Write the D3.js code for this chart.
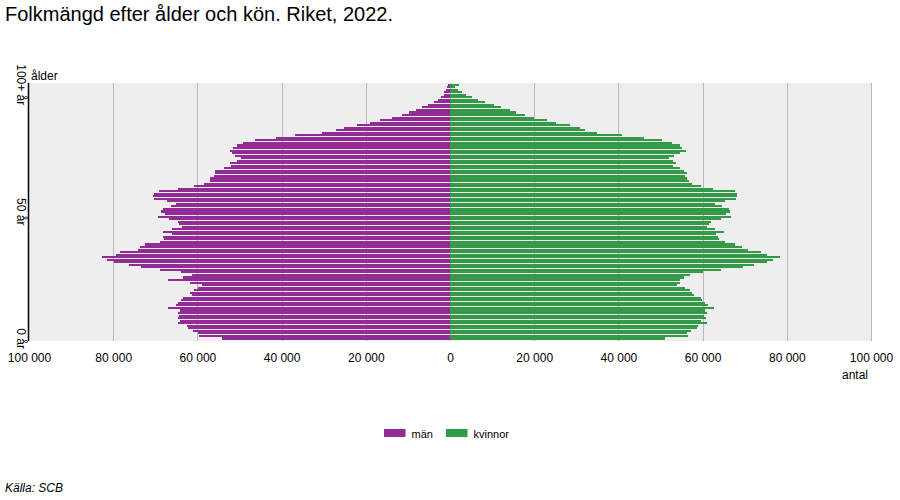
<!DOCTYPE html>
<html>
<head>
<meta charset="utf-8">
<script src="https://cdn.jsdelivr.net/npm/d3@7"></script>
<style>
  html, body { margin: 0; padding: 0; background: #fff; }
  svg { display: block; font-family: "Liberation Sans", Arial, sans-serif; }
</style>
</head>
<body>
<svg id="chart" width="900" height="500"></svg>
<script>
// Ages from 100+ (top) down to 0 (bottom)
const ages = d3.range(100, -1, -1).map(a => a === 100 ? "100+" : String(a));

// män (men), per age, same order as ages
const men = [
  396, 792, 950, 1346, 1504, 2137, 2929, 3879, 5146, 6729,
  8154, 9817, 11400, 13854, 16625, 19000, 22088, 25175, 27075, 30400,
  36813, 41325, 46313, 49163, 50588, 51538, 52250, 51775, 51063, 49638,
  50588, 52250, 52013, 53675, 55813, 55813, 56050, 57000, 57000, 58425,
  60800, 64600, 69113, 70300, 70538, 70300, 67213, 65075, 66263, 68163,
  68638, 67688, 69350, 66738, 64600, 64363, 63650, 66025, 68163, 66025,
  68163, 67925, 68875, 72438, 73625, 74100,
  78375, 79325, 82650, 81463, 79800, 76238, 73388, 68875, 63888, 61275,
  63413, 66975, 61750, 58900, 59850, 60800, 61750, 61275, 63413, 63888,
  64600, 65075, 66975, 64125, 64600, 64363, 64600, 64125, 64600, 62463,
  62225, 61038, 59850, 59613, 54150
];

// kvinnor (women), per age, same order as ages
const women = [
  2140, 1190, 1900, 2850, 3800, 5230, 6650, 8310, 10450, 12120,
  14250, 15680, 17810, 19950, 23040, 25170, 28500, 30870, 32060, 34910,
  40850, 46070, 50350, 52730, 54625, 55100, 56050, 54625, 53200, 52010,
  52963, 53675, 52963, 54625, 55575, 56288, 55813, 56288, 56763, 57475,
  59613, 62463, 67688, 68163, 68163, 67925, 65313, 62938, 64600, 66263,
  66500, 65550, 66738, 64363, 61988, 61513, 61038, 62938, 65075, 63175,
  63650, 63888, 65313, 67688, 69350, 70775,
  73863, 75288, 78375, 76713, 75288, 72200, 69588, 64363, 60088, 57000,
  55575, 54625, 54625, 53913, 55813, 57000, 57475, 57950, 59613, 59850,
  60563, 61275, 62700, 60563, 61038, 60325, 60800, 59613, 61038, 58900,
  58663, 57238, 56288, 56525, 51063
];

const xTicks = [-100000, -80000, -60000, -40000, -20000, 0, 20000, 40000, 60000, 80000, 100000];
const yTickLabels = ["100+", "50", "0"];
const seriesNames = ["män", "kvinnor"];
const colors = ["#922B96", "#339A47"];

const svg = d3.select("#chart");
const plot = { left: 29, right: 871, top: 83, bottom: 341 };

const x = d3.scaleLinear().domain([-100000, 100000]).range([plot.left, plot.right]);
const y = d3.scaleBand().domain(ages).range([83.5, 339.5]).paddingInner(0.16);

const loc = d3.formatLocale({ decimal: ",", thousands: "\u00a0", grouping: [3], currency: ["", " kr"] });
const fmt = loc.format(",d");

// Title
svg.append("text")
  .attr("x", 5).attr("y", 20.5)
  .attr("font-size", 20).attr("fill", "#000")
  .text("Folkmängd efter ålder och kön. Riket, 2022.");

// Plot background
svg.append("rect")
  .attr("x", plot.left).attr("y", plot.top)
  .attr("width", plot.right - plot.left).attr("height", plot.bottom - plot.top)
  .attr("fill", "#eeeeee");

// Grid lines
svg.append("g").selectAll("line")
  .data(xTicks.filter(d => d !== -100000))
  .join("line")
  .attr("x1", d => Math.round(x(d)) + 0.5).attr("x2", d => Math.round(x(d)) + 0.5)
  .attr("y1", plot.top).attr("y2", plot.bottom)
  .attr("stroke", "#b8b8b8").attr("stroke-width", 1);

// Bars
const rows = ages.map((a, i) => ({ age: a, m: men[i], w: women[i] }));
const gBars = svg.append("g").attr("shape-rendering", "crispEdges");
gBars.selectAll("rect.m").data(rows).join("rect")
  .attr("class", "m")
  .attr("x", d => x(-d.m)).attr("width", d => x(0) - x(-d.m))
  .attr("y", d => y(d.age)).attr("height", y.bandwidth())
  .attr("fill", colors[0]);
gBars.selectAll("rect.w").data(rows).join("rect")
  .attr("class", "w")
  .attr("x", x(0)).attr("width", d => x(d.w) - x(0))
  .attr("y", d => y(d.age)).attr("height", y.bandwidth())
  .attr("fill", colors[1]);

// Left axis line
svg.append("line")
  .attr("x1", plot.left - 0.5).attr("x2", plot.left - 0.5)
  .attr("y1", plot.top).attr("y2", plot.bottom)
  .attr("stroke", "#000").attr("stroke-width", 1.5);

// X axis
const xAxis = d3.axisBottom(x).tickValues(xTicks).tickSize(0).tickPadding(0)
  .tickFormat(d => fmt(Math.abs(d)));
const gx = svg.append("g").attr("transform", `translate(0,${plot.bottom})`).call(xAxis);
gx.select(".domain").remove();
gx.selectAll("text")
  .attr("dy", null).attr("y", 20.5)
  .attr("font-size", 12).attr("fill", "#000")
  .attr("font-family", "Liberation Sans, Arial, sans-serif");

// Y tick labels (rotated)
svg.append("g").selectAll("text")
  .data(yTickLabels)
  .join("text")
  .attr("transform", d => `translate(17,${y(d) + y.step() / 2}) rotate(90)`)
  .attr("text-anchor", "middle")
  .attr("font-size", 12).attr("fill", "#000")
  .text(d => d + " år");

// Axis titles
svg.append("text").attr("x", 31).attr("y", 80)
  .attr("font-size", 12).attr("fill", "#000").text("ålder");
svg.append("text").attr("x", 868).attr("y", 379).attr("text-anchor", "end")
  .attr("font-size", 12).attr("fill", "#000").text("antal");

// Legend
const legend = svg.append("g");
const legX = [384, 446];
seriesNames.forEach((name, i) => {
  legend.append("rect")
    .attr("x", legX[i]).attr("y", 429).attr("width", 21.5).attr("height", 8)
    .attr("fill", colors[i]);
  legend.append("text")
    .attr("x", legX[i] + 27.5).attr("y", 437.5)
    .attr("font-size", 11).attr("fill", "#000").text(name);
});

// Source
svg.append("text").attr("x", 5).attr("y", 492)
  .attr("font-size", 12).attr("font-style", "italic").attr("fill", "#000")
  .text("Källa: SCB");
</script>
</body>
</html>
